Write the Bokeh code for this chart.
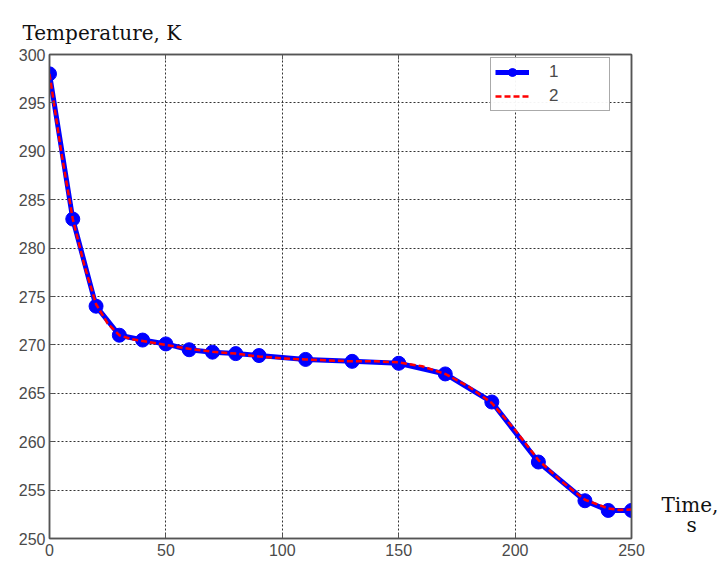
from bokeh.plotting import figure
from bokeh.layouts import row
from bokeh.models import (Range1d, Label, Legend, LegendItem, FixedTicker, Title,
                          LinearAxis)
from bokeh.embed import file_html
from bokeh.resources import INLINE

# Series 1 (blue, markers)
t1 = [0, 10, 20, 30, 40, 50, 60, 70, 80, 90, 110, 130, 150, 170, 190, 210, 230, 240, 250]
T1 = [298.0, 283.0, 274.0, 271.0, 270.5, 270.1, 269.5, 269.25, 269.1, 268.9, 268.5, 268.3,
      268.1, 267.0, 264.1, 257.9, 253.9, 252.9, 252.9]

# Series 2 (red dashed)
t2 = [0, 5, 10, 15, 20, 25, 30, 35, 40, 50, 60, 70, 80, 90, 100, 110, 120, 130, 140, 150,
      160, 170, 180, 190, 200, 210, 220, 230, 240, 245, 250]
T2 = [298.0, 290.0, 283.0, 278.2, 274.2, 272.2, 271.0, 270.6, 270.4, 270.0, 269.6, 269.3,
      269.1, 268.8, 268.6, 268.5, 268.4, 268.3, 268.3, 268.2, 267.8, 267.0, 265.7, 264.0,
      261.2, 258.1, 255.9, 254.0, 253.1, 252.95, 253.0]

x_ticks = [0, 50, 100, 150, 200, 250]
y_ticks = [250, 255, 260, 265, 270, 275, 280, 285, 290, 295, 300]

y_title = "Temperature, K"
x_title_1 = "Time,"
x_title_2 = "s"
legend_labels = ["1", "2"]

serif = "DejaVu Serif"
tick_font = "Liberation Sans"
axis_grey = "#555555"

W_MAIN = 645
p = figure(width=W_MAIN, height=565, output_backend="svg", toolbar_location=None,
           x_range=Range1d(0, 250), y_range=Range1d(250, 300),
           min_border_left=49, min_border_right=14, min_border_top=54,
           min_border_bottom=27)

p.title = Title(text=y_title, align="left", offset=-27, text_font=serif,
                text_font_size="20px", text_font_style="normal",
                text_color="#111111", standoff=19)

p.background_fill_color = "white"
p.border_fill_color = "white"
p.outline_line_color = axis_grey
p.outline_line_width = 1.5

for ax in (p.xaxis[0], p.yaxis[0]):
    ax.axis_line_color = axis_grey
    ax.axis_line_width = 1.5
    ax.major_tick_in = 5
    ax.major_tick_out = 0
    ax.minor_tick_line_color = None
    ax.major_tick_line_color = axis_grey
    ax.major_label_text_font = tick_font
    ax.major_label_text_font_size = "16px"
    ax.major_label_text_color = "#4a4a4a"
p.xaxis[0].ticker = FixedTicker(ticks=x_ticks)
p.yaxis[0].ticker = FixedTicker(ticks=y_ticks)
p.xaxis[0].major_label_standoff = 5
p.yaxis[0].major_label_standoff = 4

# inward ticks on the top and right edges (box style)
for side, ticks in (("above", x_ticks), ("right", y_ticks)):
    ax2 = LinearAxis(ticker=FixedTicker(ticks=ticks),
                     major_label_overrides={t: "" for t in ticks},
                     major_tick_in=5, major_tick_out=0, major_label_standoff=0,
                     minor_tick_line_color=None, axis_line_color=axis_grey,
                     axis_line_width=1.5, major_tick_line_color=axis_grey)
    p.add_layout(ax2, side)

p.xgrid.ticker = FixedTicker(ticks=x_ticks)
p.ygrid.ticker = FixedTicker(ticks=y_ticks)
for g in (p.xgrid[0], p.ygrid[0]):
    g.grid_line_color = "#333333"
    g.grid_line_dash = "2 2"
    g.grid_line_width = 1

# Series lines
l1 = p.line(t1, T1, line_color="#0000ff", line_width=5)
s1 = p.scatter(t1, T1, size=14, fill_color="#0000ff", line_color="#0000ff")
l2 = p.line(t2, T2, line_color="#ff0000", line_width=2.5, line_dash="6 3")

legend = Legend(items=[LegendItem(label=legend_labels[0], renderers=[l1, s1]),
                       LegendItem(label=legend_labels[1], renderers=[l2])],
                location=(441, 427))
legend.glyph_width = 34
legend.glyph_height = 20
legend.label_standoff = 20
legend.label_width = 56
legend.padding = 4
legend.spacing = 4
legend.margin = 0
legend.border_line_color = axis_grey
legend.border_line_width = 1.5
legend.label_text_font = tick_font
legend.label_text_font_size = "17px"
legend.label_text_color = "#4a4a4a"
legend.background_fill_color = "white"
p.add_layout(legend, "center")

# side panel for the x-axis caption
W_SIDE = 721 - W_MAIN
p2 = figure(width=W_SIDE, height=565, output_backend="svg", toolbar_location=None,
            x_range=Range1d(0, W_SIDE), y_range=Range1d(0, 565),
            min_border=0, x_axis_type=None, y_axis_type=None)
p2.outline_line_color = None
p2.grid.visible = False
p2.background_fill_color = "white"
p2.border_fill_color = "white"
# screen units: measured from the frame's bottom-left corner, y upwards
for txt, cx, cy in ((x_title_1, 661 - W_MAIN, 34), (x_title_2, 686 - W_MAIN, 14)):
    p2.add_layout(Label(x=cx, y=cy, x_units="screen", y_units="screen", text=txt,
                        text_font=serif, text_font_size="20px", text_color="#111111",
                        text_baseline="alphabetic"))

layout = row(p, p2, spacing=0)
open("out.html", "w").write(file_html(layout, INLINE))
